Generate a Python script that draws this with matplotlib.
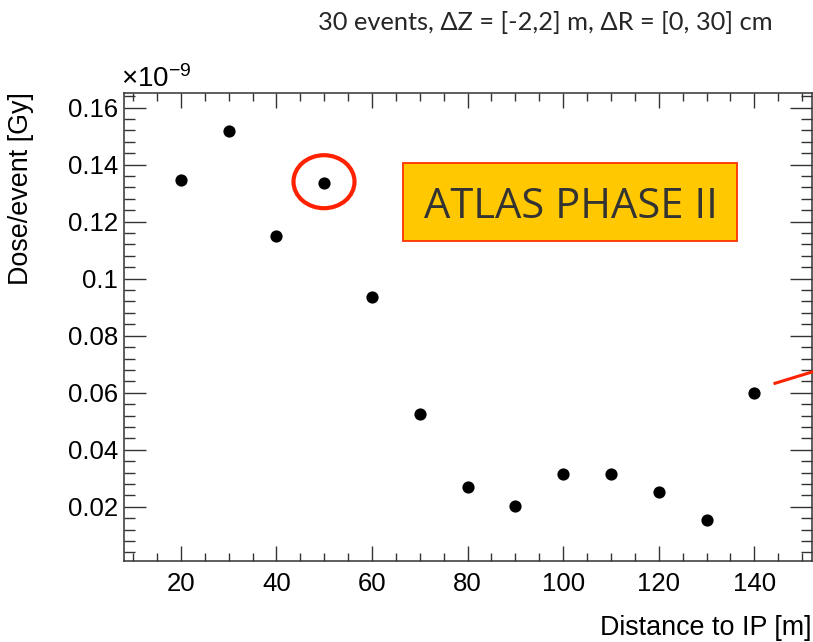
import matplotlib
matplotlib.use("Agg")
import matplotlib.pyplot as plt
from matplotlib.patches import Rectangle, Ellipse
from matplotlib.lines import Line2D
from matplotlib.ticker import MultipleLocator

distance = [20, 30, 40, 50, 60, 70, 80, 90, 100, 110, 120, 130, 140]
dose = [0.1347, 0.1518, 0.1148, 0.1335, 0.0934, 0.0526, 0.0268, 0.0204,
        0.0315, 0.0315, 0.0252, 0.0152, 0.0600]

title = "30 events, \u0394Z = [-2,2] m, \u0394R = [0, 30] cm"
box_text = "ATLAS PHASE II"

plt.rcParams['font.family'] = ['Liberation Sans', 'DejaVu Sans']
plt.rcParams['mathtext.fontset'] = 'custom'
plt.rcParams['mathtext.rm'] = 'Liberation Sans'
plt.rcParams['mathtext.it'] = 'Liberation Sans'

W, H = 813, 642
fig = plt.figure(figsize=(W / 100, H / 100), dpi=100)

def fx(px):
    return px / W

def fy(py):
    return 1 - py / H

ax = fig.add_axes([fx(123.5), fy(560.7), fx(811.7) - fx(123.5), fy(93.3) - fy(560.7)])
ax.plot(distance, dose, 'o', color='black', markersize=8.8, markeredgewidth=0)
ax.set_xlim(8, 152)
ax.set_ylim(0.0011, 0.165)

ax.xaxis.set_major_locator(MultipleLocator(20))
ax.xaxis.set_minor_locator(MultipleLocator(5))
ax.yaxis.set_major_locator(MultipleLocator(0.02))
ax.yaxis.set_minor_locator(MultipleLocator(0.004))
ax.set_yticks([0.02, 0.04, 0.06, 0.08, 0.1, 0.12, 0.14, 0.16])
ax.set_yticklabels(['0.02', '0.04', '0.06', '0.08', '0.1', '0.12', '0.14', '0.16'])
ax.set_xticks([20, 40, 60, 80, 100, 120, 140])
ax.set_xticklabels(['20', '40', '60', '80', '100', '120', '140'])

spine_c = '#333333'
for s in ax.spines.values():
    s.set_color(spine_c)
    s.set_linewidth(1.1)
ax.tick_params(axis='both', which='both', direction='in', top=True, right=True,
               color=spine_c, labelsize=18.5, labelcolor='black')
ax.tick_params(axis='y', which='major', length=16, width=1.0, pad=4)
ax.tick_params(axis='y', which='minor', length=8, width=1.0)
ax.tick_params(axis='x', which='major', length=11, width=1.0, pad=8)
ax.tick_params(axis='x', which='minor', length=5.5, width=1.0)

fig.text(fx(121), fy(93), r'$\times10^{-9}$', fontsize=20, ha='left', va='bottom')

fig.text(fx(811), fy(641), 'Distance to IP [m]', fontsize=19.4, ha='right', va='bottom')
fig.text(fx(8), fy(92), 'Dose/event [Gy]', fontsize=19.4, rotation=90, ha='left', va='top')

fig.text(fx(545.5), fy(22), title, fontsize=18.3, family=['Lato', 'DejaVu Sans'],
         color='#262626', ha='center', va='center')

rect = Rectangle((fx(402.7), fy(240.7)), fx(736.7) - fx(402.7), fy(163.3) - fy(240.7),
                 transform=fig.transFigure, facecolor='#FFC800', edgecolor='#FF3300',
                 linewidth=1.3)
fig.patches.append(rect)
fig.text(fx(570.5), fy(207), box_text, fontsize=30, family=['Open Sans', 'DejaVu Sans'],
         color='#333333', ha='center', va='center')

ell = Ellipse((fx(324), fy(181.7)), fx(61) - fx(0), fy(0) - fy(53),
              transform=fig.transFigure, facecolor='none', edgecolor='#FF2200', linewidth=3)
fig.patches.append(ell)

fig.lines.append(Line2D([fx(775), fx(830)], [fy(383.3), fy(366.5)],
                        transform=fig.transFigure, color='#FF2200', linewidth=2.2))

fig.savefig('out.png', dpi=100)
